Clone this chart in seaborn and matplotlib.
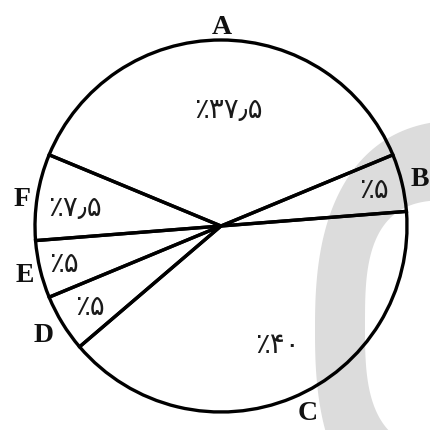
import matplotlib
matplotlib.use("Agg")
import matplotlib.pyplot as plt
import numpy as np
import seaborn as sns
from matplotlib.patches import Polygon

# slices in drawing order (counter-clockwise from the right)
letters = ["B", "A", "F", "E", "D", "C"]
shares = [5, 37.5, 7.5, 5, 5, 40]
share_labels = ["٪۵", "٪۳۷٫۵", "٪۷٫۵", "٪۵", "٪۵", "٪۴۰"]

sns.set_theme(style="white")
plt.rcParams['font.family'] = ['DejaVu Sans']

fig = plt.figure(figsize=(4.3, 4.3), dpi=100)
ax = fig.add_axes([0, 0, 1, 1])

H = 430
cx, cy, r = 221, H - 226, 186


def blob(x0, y0, a, b, n):
    # rounded shape for the faint watermark, y given from the top
    t = np.linspace(0, 2 * np.pi, 400)
    c, s = np.cos(t), np.sin(t)
    x = x0 + a * np.sign(c) * np.abs(c) ** (2 / n)
    y = y0 + b * np.sign(s) * np.abs(s) ** (2 / n)
    return np.column_stack([x, H - y])


ax.add_patch(Polygon(blob(470, 330, 155, 210, 2.5), closed=True,
                     color="#dcdcdc", lw=0, zorder=0))
ax.add_patch(Polygon(blob(455, 325, 90, 125, 3), closed=True,
                     color="white", lw=0, zorder=0.5))

wedges, _ = ax.pie(shares, startangle=4.5, counterclock=True,
                   center=(cx, cy), radius=r,
                   wedgeprops=dict(facecolor="none", edgecolor="black", linewidth=2.4))
for w in wedges:
    w.set_zorder(2)

# percentage labels inside the slices
inner_pos = {"A": (228, 320), "B": (374, 240), "C": (278, 85),
             "D": (90, 123), "E": (64, 166), "F": (75, 222)}
for lab, txt in zip(letters, share_labels):
    x, y = inner_pos[lab]
    ax.text(x, y, txt, ha="center", va="center", fontsize=20, color="#1a1a1a", zorder=3)

# letter labels outside the circle
outer_pos = {"A": (222, 403), "B": (420, 250), "C": (308, 17),
             "D": (44, 94), "E": (25, 155), "F": (22, 230)}
for lab in letters:
    x, y = outer_pos[lab]
    ax.text(x, y, lab, ha="center", va="center", fontsize=20, fontweight="bold",
            family=["Liberation Serif"], color="#111111", zorder=3)

ax.set_xlim(0, 430)
ax.set_ylim(0, 430)
ax.set_aspect("equal")
ax.axis("off")

fig.savefig("out.png", dpi=100)
